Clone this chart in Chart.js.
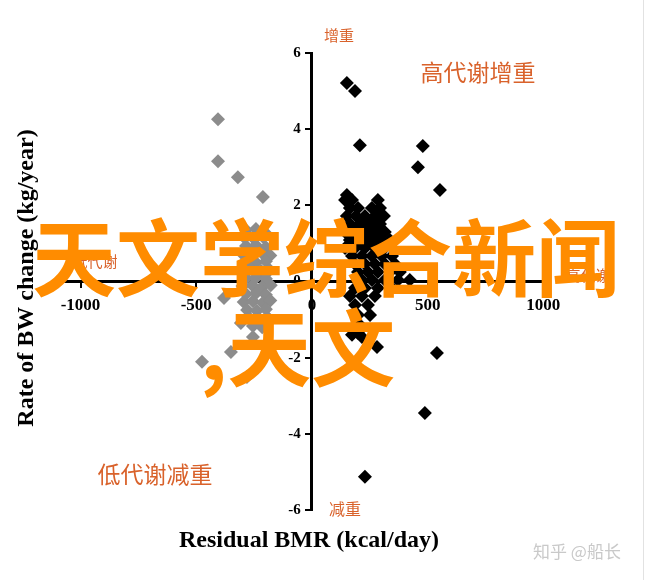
<!DOCTYPE html>
<html>
<head>
<meta charset="utf-8">
<script src="https://cdn.jsdelivr.net/npm/chart.js@4"></script>
<style>
  html, body { margin: 0; padding: 0; background: #fff; }
  #wrap { position: relative; width: 646px; height: 580px; }
</style>
</head>
<body>
<div id="wrap"><canvas id="chart" width="646" height="580"></canvas></div>
<script>
/* Data */
const xTicks = [-1000, -500, 0, 500, 1000];
const yTicks = [-6, -4, -2, 0, 2, 4, 6];

// grey diamonds: residual BMR < 0
const lowPoints = [
    [-406, 4.26], [-406, 3.16], [-320, 2.74], [-212, 2.22],
    [-285, 1.35], [-242, 1.38], [-205, 1.3],
    [-290, 1.14], [-250, 1.12], [-210, 1.16],
    [-285, 0.93], [-242, 0.95], [-199, 0.9],
    [-300, 0.72], [-258, 0.7], [-215, 0.74], [-180, 0.68],
    [-285, 0.51], [-242, 0.5], [-199, 0.53],
    [-305, 0.3], [-262, 0.32], [-220, 0.28], [-182, 0.3],
    [-285, 0.09], [-242, 0.1], [-199, 0.07],
    [-300, -0.12], [-258, -0.1], [-215, -0.14], [-178, -0.1],
    [-285, -0.33], [-242, -0.31], [-199, -0.35],
    [-295, -0.54], [-255, -0.52], [-212, -0.56], [-180, -0.5],
    [-280, -0.75], [-238, -0.77], [-199, -0.73],
    [-270, -0.96], [-228, -0.98], [-192, -0.94],
    [-255, -1.17], [-215, -1.2],
    [-380, -0.43], [-307, -1.09], [-350, -1.85], [-475, -2.11], [-255, -1.46], [-281, -2.51]
];

// black diamonds: residual BMR > 0
const highPoints = [
    [151, 5.21], [186, 5.0], [207, 3.58], [479, 3.56], [458, 3.0], [553, 2.4], [151, 2.27],
    [143, 2.14], [173, 2.14], [285, 2.14],
    [164, 1.93], [199, 1.93], [259, 1.93], [294, 1.93],
    [151, 1.72], [190, 1.72], [229, 1.72], [272, 1.72], [311, 1.72],
    [164, 1.51], [207, 1.51], [251, 1.51], [294, 1.51],
    [143, 1.3], [186, 1.3], [229, 1.3], [272, 1.3], [315, 1.3],
    [164, 1.09], [207, 1.09], [251, 1.09], [294, 1.09], [337, 1.09],
    [143, 0.88], [186, 0.88], [229, 0.88], [272, 0.88], [315, 0.88],
    [173, 0.67], [216, 0.67], [259, 0.67], [302, 0.67], [346, 0.67],
    [186, 0.46], [229, 0.46], [272, 0.46], [315, 0.46], [359, 0.46],
    [199, 0.25], [242, 0.25], [285, 0.25], [337, 0.25], [380, 0.25],
    [216, 0.04], [259, 0.04], [315, 0.04], [372, 0.04], [423, 0.04],
    [186, -0.17], [229, -0.17], [285, -0.17], [346, -0.17],
    [164, -0.38], [216, -0.38], [272, -0.38],
    [186, -0.62], [242, -0.62],
    [199, -0.88], [251, -0.88],
    [207, -1.14],
    [216, -1.46], [281, -1.72], [173, -1.4], [199, -1.35], [540, -1.88],
    [488, -3.45], [229, -5.13]
];

const xTitle = 'Residual BMR (kcal/day)';
const yTitle = 'Rate of BW change (kg/year)';

/* Helpers */
function toXY(pairs) {
    return pairs.map(p => ({x: p[0], y: p[1]}));
}

const serifBold = (size) => ({family: "'Liberation Serif', 'Times New Roman', serif", size: size, weight: 'bold'});

/* Titles and the orange notes laid over the plot */
const overlayPlugin = {
    id: 'overlay',
    afterDraw(chart) {
        const ctx = chart.ctx;
        ctx.save();

        ctx.fillStyle = '#000';
        ctx.font = "bold 24px 'Liberation Serif', serif";
        ctx.textAlign = 'center';
        ctx.textBaseline = 'middle';
        ctx.fillText(xTitle, 309, 541);
        ctx.save();
        ctx.translate(27, 278);
        ctx.rotate(-Math.PI / 2);
        ctx.fillText(yTitle, 0, 0);
        ctx.restore();

        // small notes
        ctx.fillStyle = '#d9622b';
        ctx.font = "15px 'Noto Sans CJK SC', sans-serif";
        ctx.fillText('增重', 339, 35);
        ctx.fillText('低代谢', 95, 261);
        ctx.fillText('高代谢', 588, 275);
        ctx.font = "16px 'Noto Sans CJK SC', sans-serif";
        ctx.fillText('减重', 345, 509);
        ctx.font = "23px 'Noto Sans CJK SC', sans-serif";
        ctx.fillText('高代谢增重', 478, 72);
        ctx.fillText('低代谢减重', 155, 474);

        // big headline
        ctx.fillStyle = '#ff8c00';
        ctx.font = "bold 84px 'Noto Sans CJK SC', sans-serif";
        ctx.fillText('天文学综合新闻', 326, 258);
        ctx.textAlign = 'left';
        ctx.fillText(',天文', 200, 348);

        // watermark
        ctx.textAlign = 'center';
        ctx.fillStyle = '#c9c9c9';
        ctx.font = "17px 'Noto Sans CJK SC', sans-serif";
        ctx.fillText('知乎 @船长', 577, 552);

        ctx.strokeStyle = '#e2e2e2';
        ctx.lineWidth = 1;
        ctx.beginPath();
        ctx.moveTo(643.5, 0);
        ctx.lineTo(643.5, 580);
        ctx.stroke();
        ctx.restore();
    }
};

const config = {
    type: 'scatter',
    data: {
        datasets: [
            {
                label: 'low',
                data: toXY(lowPoints),
                pointStyle: 'rectRot',
                pointRadius: 7,
                borderWidth: 0,
                backgroundColor: '#8c8c8c',
                borderColor: '#8c8c8c'
            },
            {
                label: 'high',
                data: toXY(highPoints),
                pointStyle: 'rectRot',
                pointRadius: 7,
                borderWidth: 0,
                backgroundColor: '#000',
                borderColor: '#000'
            }
        ]
    },
    options: {
        responsive: false,
        animation: false,
        layout: {padding: {left: 62, right: 98, top: 53, bottom: 70}},
        plugins: {
            legend: {display: false},
            tooltip: {enabled: false}
        },
        scales: {
            x: {
                type: 'linear',
                position: {y: 0},
                min: -1080,
                max: 1020,
                afterBuildTicks: (scale) => { scale.ticks = xTicks.map(v => ({value: v})); },
                grid: {drawOnChartArea: false, drawTicks: true, tickLength: 5, color: '#000', lineWidth: 2},
                border: {display: true, color: '#000', width: 3},
                ticks: {
                    color: '#000', font: serifBold(17), padding: 9, maxRotation: 0,
                    callback: (value) => String(value)
                }
            },
            y: {
                type: 'linear',
                position: {x: 0},
                min: -6,
                max: 6,
                afterBuildTicks: (scale) => { scale.ticks = yTicks.map(v => ({value: v})); },
                grid: {drawOnChartArea: false, drawTicks: true, tickLength: 5, color: '#000', lineWidth: 2},
                border: {display: true, color: '#000', width: 3},
                ticks: {
                    color: '#000', font: serifBold(15), padding: 3,
                    callback: (value) => value + '   '
                }
            }
        }
    },
    plugins: [overlayPlugin]
};

const chart = new Chart(document.getElementById('chart'), config);
</script>
</body>
</html>
